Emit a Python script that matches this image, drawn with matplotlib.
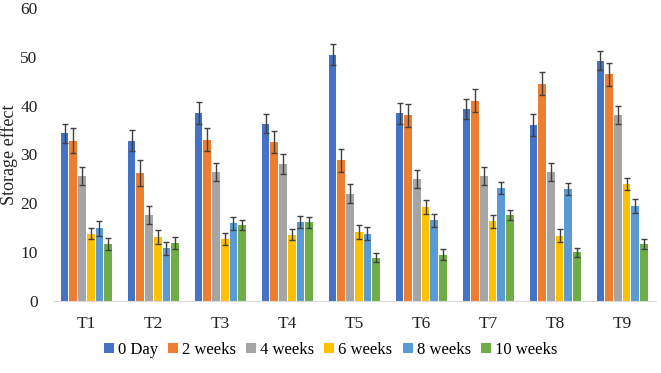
import numpy as np
import matplotlib
matplotlib.use("Agg")
from matplotlib import pyplot as plt

treatments = ["T1", "T2", "T3", "T4", "T5", "T6", "T7", "T8", "T9"]
periods = ["0 Day", "2 weeks", "4 weeks", "6 weeks", "8 weeks", "10 weeks"]

day0 = [34.3, 32.8, 38.5, 36.3, 50.4, 38.4, 39.3, 36.0, 49.2]
week2 = [32.8, 26.2, 33.0, 32.5, 28.8, 38.0, 41.0, 44.5, 46.4]
week4 = [25.6, 17.6, 26.4, 28.0, 22.0, 25.0, 25.6, 26.4, 38.1]
week6 = [13.8, 13.1, 12.7, 13.6, 14.1, 19.3, 16.3, 13.4, 24.0]
week8 = [14.9, 10.8, 15.9, 16.2, 13.8, 16.5, 23.1, 22.9, 19.5]
week10 = [11.7, 11.9, 15.5, 16.1, 8.9, 9.5, 17.6, 10.0, 11.7]

err_day0 = [2.0, 2.2, 2.2, 2.0, 2.2, 2.1, 2.1, 2.3, 2.0]
err_week2 = [2.6, 2.7, 2.4, 2.3, 2.3, 2.3, 2.4, 2.4, 2.4]
err_week4 = [1.9, 1.9, 1.9, 2.0, 2.0, 1.8, 1.9, 1.9, 1.9]
err_week6 = [1.2, 1.4, 1.3, 1.2, 1.4, 1.4, 1.3, 1.4, 1.2]
err_week8 = [1.5, 1.3, 1.3, 1.2, 1.4, 1.4, 1.3, 1.3, 1.4]
err_week10 = [1.2, 1.2, 1.0, 1.1, 1.0, 1.1, 1.0, 0.9, 1.0]

colors = ["#4472C4", "#ED7D31", "#A5A5A5", "#FFC000", "#5B9BD5", "#70AD47"]

series = [day0, week2, week4, week6, week8, week10]
errors = [err_day0, err_week2, err_week4, err_week6, err_week8, err_week10]

plt.rcParams['font.family'] = ['Liberation Serif', 'DejaVu Serif']

fig = plt.figure(figsize=(6.61, 3.73), dpi=100)
ax = fig.add_axes([0.080, 0.193, 0.912, 0.786])

x = np.arange(len(treatments))
slot = 0.13
width = 0.115
for i, (vals, errs) in enumerate(zip(series, errors)):
    offs = (i - 2.5) * slot
    ax.bar(x + offs, vals, width, color=colors[i], label=periods[i],
           yerr=errs, capsize=2.5,
           error_kw=dict(ecolor="#404040", elinewidth=1.0, capthick=1.0))

ax.set_xlim(-0.5, len(treatments) - 0.5)
ax.set_ylim(0, 60)
ax.set_yticks(range(0, 61, 10))
ax.set_xticks(x)
ax.set_xticklabels(treatments)
ax.tick_params(axis="both", length=0, labelsize=12.5, colors="#222222")
ax.tick_params(axis="y", pad=11)
ax.tick_params(axis="x", pad=11)
for s in ["top", "right", "left"]:
    ax.spines[s].set_visible(False)
ax.spines["bottom"].set_color("#D9D9D9")
ax.set_ylabel("Storage effect", fontsize=13, color="#222222")
ax.yaxis.set_label_coords(-0.058, 0.5)

fig.legend(loc="lower center", bbox_to_anchor=(0.5, 0.0), ncol=6, frameon=False,
           fontsize=12, handlelength=0.6, handleheight=0.6, handletextpad=0.25,
           columnspacing=0.6)

plt.savefig("out.png", dpi=100)
